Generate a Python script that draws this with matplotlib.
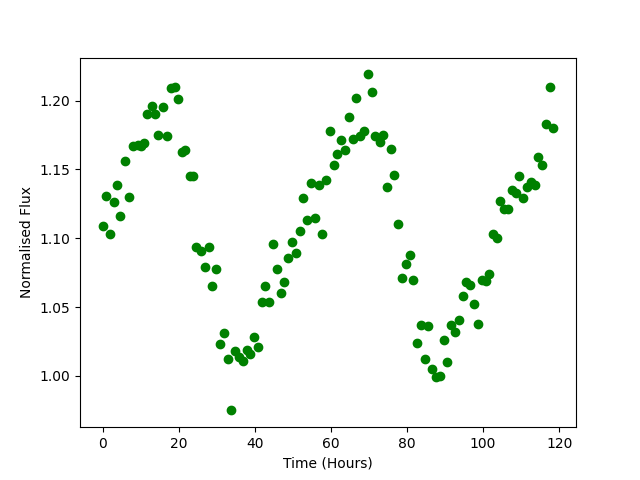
import matplotlib
matplotlib.use('Agg')
import matplotlib.pyplot as plt

time_hours = [
    0.0, 0.8, 1.9, 2.9, 3.9, 4.7, 5.8, 6.9, 7.9, 9.3, 10.0, 11.0,
    11.8, 12.9, 13.9, 14.7, 15.9, 16.9, 18.0, 19.0, 19.7, 20.8, 21.8, 22.9,
    23.8, 24.6, 25.9, 26.8, 28.0, 28.7, 29.7, 30.8, 31.8, 32.9, 33.7, 34.8,
    35.8, 36.9, 38.0, 38.8, 39.7, 40.9, 41.8, 42.7, 43.8, 44.8, 45.9, 46.9,
    47.7, 48.8, 49.8, 50.9, 51.9, 52.7, 53.8, 54.8, 55.9, 56.9, 57.7, 58.8,
    59.7, 60.9, 61.7, 62.7, 63.8, 64.8, 65.9, 66.7, 67.7, 68.8, 69.8, 70.9,
    71.7, 72.8, 73.8, 74.8, 75.9, 76.7, 77.6, 78.7, 79.7, 80.8, 81.6, 82.7,
    83.7, 84.8, 85.6, 86.6, 87.7, 88.8, 89.8, 90.6, 91.6, 92.7, 93.8, 94.8,
    95.6, 96.6, 97.7, 98.6, 99.6, 100.7, 101.6, 102.7, 103.7, 104.5, 105.6,
    106.6, 107.7, 108.7, 109.5, 110.6, 111.6, 112.7, 113.7, 114.5, 115.6,
    116.6, 117.7, 118.5,
]
flux = [
    1.109, 1.131, 1.103, 1.126, 1.139, 1.116, 1.156, 1.130, 1.167, 1.168, 1.167, 1.169,
    1.190, 1.196, 1.190, 1.175, 1.195, 1.174, 1.209, 1.210, 1.201, 1.163, 1.164, 1.145,
    1.145, 1.094, 1.091, 1.079, 1.094, 1.065, 1.078, 1.023, 1.031, 1.012, 0.975, 1.018,
    1.014, 1.011, 1.019, 1.016, 1.028, 1.021, 1.054, 1.065, 1.054, 1.096, 1.078, 1.060,
    1.068, 1.086, 1.097, 1.089, 1.105, 1.129, 1.113, 1.140, 1.115, 1.139, 1.103, 1.142,
    1.178, 1.153, 1.161, 1.171, 1.164, 1.188, 1.172, 1.202, 1.174, 1.178, 1.219, 1.206,
    1.174, 1.170, 1.175, 1.137, 1.165, 1.146, 1.110, 1.071, 1.081, 1.088, 1.070, 1.024,
    1.037, 1.012, 1.036, 1.005, 0.999, 1.000, 1.026, 1.010, 1.037, 1.032, 1.041, 1.058,
    1.068, 1.066, 1.052, 1.038, 1.070, 1.069, 1.074, 1.103, 1.100, 1.127, 1.121,
    1.121, 1.135, 1.133, 1.145, 1.129, 1.137, 1.141, 1.139, 1.159, 1.153,
    1.183, 1.210, 1.180,
]

fig, ax = plt.subplots(figsize=(6.4, 4.8), dpi=100)
ax.plot(time_hours, flux, 'o', color='green')
ax.set_xlabel('Time (Hours)')
ax.set_ylabel('Normalised Flux')

fig.savefig('out.png')
